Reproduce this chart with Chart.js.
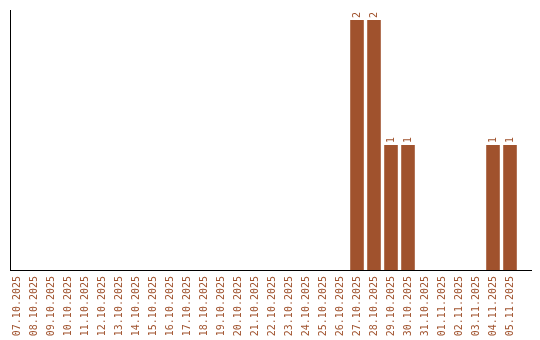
<!DOCTYPE html>
<html>
<head>
<meta charset="utf-8">
<script src="https://cdn.jsdelivr.net/npm/chart.js@4"></script>
<style>
    html, body { margin: 0; padding: 0; background: #fff; }
    #wrap { width: 540px; height: 340px; }
</style>
</head>
<body>
<div id="wrap"><canvas id="chart" width="540" height="340"></canvas></div>
<script>
const dates = [
    "07.10.2025", "08.10.2025", "09.10.2025", "10.10.2025", "11.10.2025",
    "12.10.2025", "13.10.2025", "14.10.2025", "15.10.2025", "16.10.2025",
    "17.10.2025", "18.10.2025", "19.10.2025", "20.10.2025", "21.10.2025",
    "22.10.2025", "23.10.2025", "24.10.2025", "25.10.2025", "26.10.2025",
    "27.10.2025", "28.10.2025", "29.10.2025", "30.10.2025", "31.10.2025",
    "01.11.2025", "02.11.2025", "03.11.2025", "04.11.2025", "05.11.2025"
];
const counts = [
    0, 0, 0, 0, 0, 0, 0, 0, 0, 0,
    0, 0, 0, 0, 0, 0, 0, 0, 0, 0,
    2, 2, 1, 1, 0, 0, 0, 0, 1, 1
];

const barColor = "#a0522d";
const monoFont = "'DejaVu Sans Mono', 'Liberation Mono', monospace";

// valeurs au-dessus des barres, tournées à -90°
const valueLabels = {
    id: "valueLabels",
    afterDatasetsDraw(chart) {
        const ctx = chart.ctx;
        const meta = chart.getDatasetMeta(0);
        ctx.save();
        ctx.fillStyle = barColor;
        ctx.font = "10px " + monoFont;
        ctx.textAlign = "left";
        ctx.textBaseline = "middle";
        meta.data.forEach((bar, i) => {
            if (!counts[i]) return;
            ctx.save();
            ctx.translate(bar.x, bar.y - 2);
            ctx.rotate(-Math.PI / 2);
            ctx.fillText(String(counts[i]), 0, 0);
            ctx.restore();
        });
        ctx.restore();
    }
};

new Chart(document.getElementById("chart"), {
    type: "bar",
    data: {
        datasets: [{
            data: counts.map((v, i) => ({ x: i, y: v })),
            backgroundColor: barColor,
            borderWidth: 0,
            barPercentage: 0.8,
            categoryPercentage: 1
        }]
    },
    options: {
        responsive: false,
        animation: false,
        layout: { padding: { top: 10, left: 10, right: 9, bottom: 0 } },
        plugins: { legend: { display: false }, tooltip: { enabled: false } },
        scales: {
            x: {
                type: "linear",
                offset: false,
                min: -0.412,
                max: 30.235,
                grid: { display: false, drawTicks: false },
                border: { display: true, color: "#000", width: 1 },
                ticks: {
                    stepSize: 1,
                    includeBounds: false,
                    maxTicksLimit: 100,
                    color: barColor,
                    font: { family: monoFont, size: 10 },
                    minRotation: 90,
                    maxRotation: 90,
                    autoSkip: false,
                    padding: 6,
                    callback: value => dates[value] ?? ""
                },
                afterFit(scale) {
                    scale.height = 70;
                    scale.paddingLeft = 0;
                    scale.paddingRight = 0;
                }
            },
            y: {
                min: 0,
                max: 2.08,
                grid: { display: false, drawTicks: false },
                border: { display: true, color: "#000", width: 1 },
                ticks: { display: false },
                afterFit(scale) { scale.width = 0; }
            }
        }
    },
    plugins: [valueLabels]
});
</script>
</body>
</html>
